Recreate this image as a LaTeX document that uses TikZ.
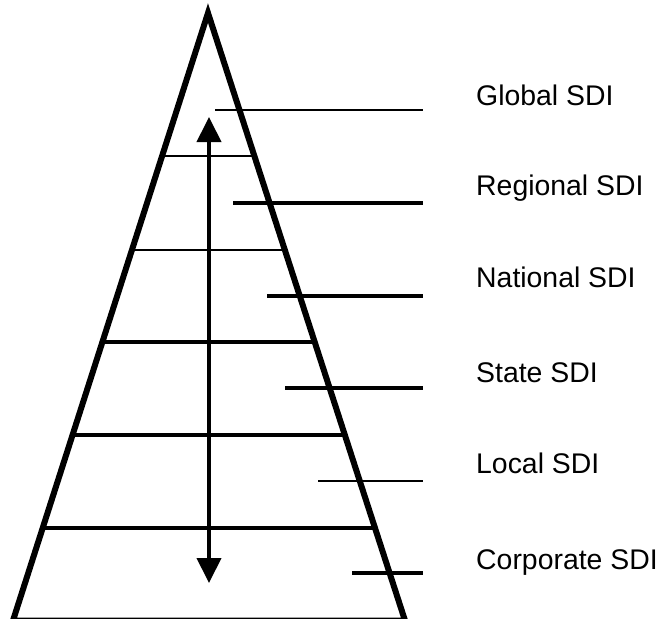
\documentclass[tikz,border=0pt]{standalone}
\usepackage{fontspec}
\setmainfont{Liberation Sans}
\usetikzlibrary{calc,arrows.meta}
\begin{document}
\begin{tikzpicture}[x=1pt,y=-1pt,>={Triangle[width=24pt,length=25pt]}]

        % Styles
        \tikzset{
          side/.style={line width=6pt,line join=miter},
          rung/.style={line width=3.8pt},
          thinrung/.style={line width=2.5pt},
          lbl/.style={anchor=base west,inner sep=0pt,
                      font=\fontsize{28.4}{34}\selectfont}
        }

        \useasboundingbox (0,0) rectangle (660,618);

        % pyramid corners
        \def\ytop{13}      % apex
        \def\ybase{620.5}  % base (just below the frame)

        %-------------------------------
        % Pyramid outline
        %-------------------------------
        \coordinate (apex) at (208,\ytop);
        \coordinate (bl) at (13,\ybase);
        \coordinate (br) at (405,\ybase);
        \draw[side] (bl) -- (apex) -- (br) -- cycle;

        % Rungs across the pyramid (level boundaries)
        \foreach \y/\s in {156/thinrung,250/thinrung,342/rung,435/rung,528/rung}
          \draw[\s] ($(apex)!{(\y-\ytop)/(\ybase-\ytop)}!(bl)$)
                 -- ($(apex)!{(\y-\ytop)/(\ybase-\ytop)}!(br)$);

        %-------------------------------
        % Up/down arrow
        %-------------------------------
        \coordinate (up) at (209,117);
        \coordinate (down) at (209,583);
        \draw[<->,line width=4pt] (up) -- (down);

        %-------------------------------
        % Leader lines
        %-------------------------------
        \foreach \i/\y/\x/\s in {1/110/215/thinrung,2/203/233/rung,
            3/296/267/rung,4/388/285/rung,5/481/318/thinrung,6/573/352/rung}
        {
          \coordinate (in\i) at (\x,\y);
          \coordinate (out\i) at (423,\y);
          \draw[\s] (in\i) -- (out\i);
        }

        %---------------------------------
        % Level labels on the right
        %---------------------------------
        \node[lbl] (global)    at (476,105) {Global SDI};
        \node[lbl] (regional)  at (476,195) {Regional SDI};
        \node[lbl] (national)  at (476,287) {National SDI};
        \node[lbl] (state)     at (476,382) {State SDI};
        \node[lbl] (local)     at (476,473) {Local SDI};
        \node[lbl] (corporate) at (476,569) {Corporate SDI};

\end{tikzpicture}
\end{document}
